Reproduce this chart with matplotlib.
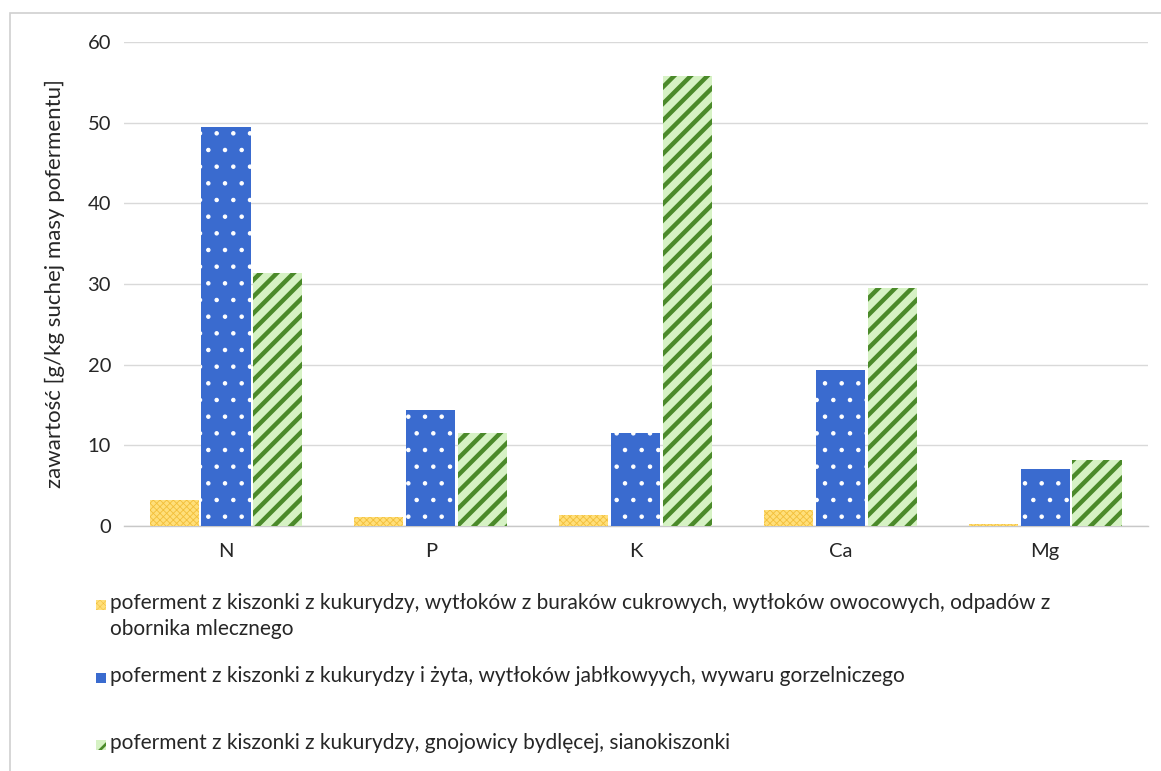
import matplotlib.pyplot as plt
from matplotlib.patches import Rectangle
import numpy as np

plt.rcParams['font.family'] = ['Lato', 'DejaVu Sans']

pierwiastki = ['N', 'P', 'K', 'Ca', 'Mg']
kukurydza_buraki = [3.2, 1.1, 1.3, 2.0, 0.3]
kukurydza_zyto = [49.4, 14.4, 11.5, 19.3, 7.1]
kukurydza_gnojowica = [31.4, 11.5, 55.8, 29.5, 8.2]
yticks = [0, 10, 20, 30, 40, 50, 60]

etykiety = [
    'poferment z kiszonki z kukurydzy, wytłoków z buraków cukrowych, wytłoków owocowych, odpadów z\nobornika mlecznego',
    'poferment z kiszonki z kukurydzy i żyta, wytłoków jabłkowyych, wywaru gorzelniczego',
    'poferment z kiszonki z kukurydzy, gnojowicy bydlęcej, sianokiszonki',
]

# face, hatch colour, hatch, hatch width
style = [
    ('#FFDF7A', '#F2BF3A', 'xxxxx', 0.6),
    ('#3A6BCF', '#FFFFFF', '.', 0.8),
    ('#D6F2C4', '#4B8A2A', '//', 3.2),
]

tekst = '#262626'

fig = plt.figure(figsize=(11.61, 7.71), dpi=100)
ax = fig.add_axes([0.1064, 0.3178, 0.882, 0.6278])

x = np.arange(len(pierwiastki))
w = 0.24
gap = 0.013
serie = [kukurydza_buraki, kukurydza_zyto, kukurydza_gnojowica]
for i, (vals, (fc, hc, h, lw)) in enumerate(zip(serie, style)):
    with plt.rc_context({'hatch.linewidth': lw, 'hatch.color': hc}):
        bars = ax.bar(x + (i - 1) * (w + gap), vals, w, color=fc,
                      edgecolor=hc, linewidth=0, hatch=h, zorder=3)

ax.set_xlim(-0.5, len(pierwiastki) - 0.5)
ax.set_ylim(0, 60)
ax.set_yticks(yticks)
ax.set_xticks(x)
ax.set_xticklabels(pierwiastki)
ax.grid(axis='y', color='#D9D9D9', linewidth=1, zorder=0)
for s in ['top', 'right', 'left']:
    ax.spines[s].set_visible(False)
ax.spines['bottom'].set_color('#C8C8C8')
ax.spines['bottom'].set_linewidth(1)
ax.tick_params(length=0, labelsize=14.5, colors=tekst, pad=12)
ax.tick_params(axis='y', pad=9)
ax.set_ylabel('zawartość [g/kg suchej masy pofermentu]', fontsize=16, color=tekst, labelpad=16)

# legend drawn by hand
leg_y = [605, 678, 745]
for (fc, hc, h, lw), lab, yy in zip(style, etykiety, leg_y):
    with plt.rc_context({'hatch.linewidth': lw * 0.6, 'hatch.color': hc}):
        fig.patches.append(Rectangle((96 / 1161, 1 - (yy + 5) / 771), 10 / 1161, 10 / 771,
                                     transform=fig.transFigure, facecolor=fc,
                                     edgecolor=hc, linewidth=0, hatch=h))
    fig.text(110 / 1161, 1 - (yy - 12) / 771, lab, fontsize=15, color=tekst,
             va='top', ha='left', linespacing=1.35)

# outer frame
fig.patches.append(Rectangle((10 / 1161, -0.01), 1.1, 1 - 13 / 771 + 0.01,
                             transform=fig.transFigure, fill=False,
                             edgecolor='#D0D0D0', linewidth=1.2))

fig.savefig('out.png', dpi=100)
